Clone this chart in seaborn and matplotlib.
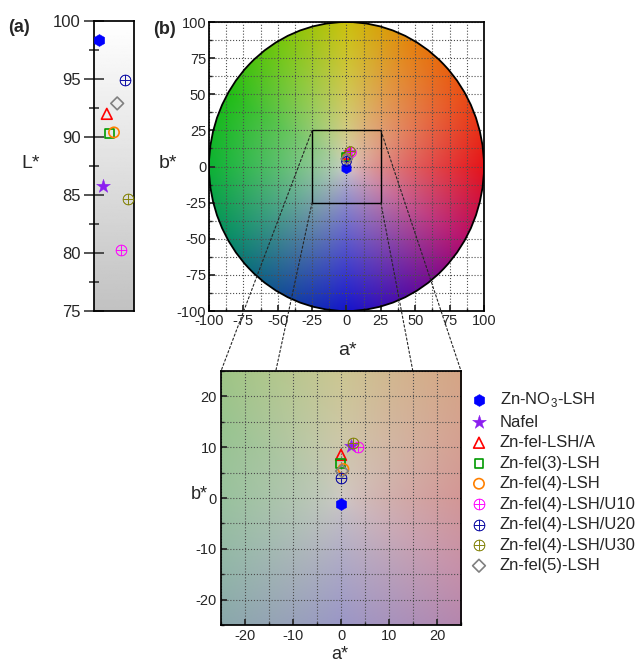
import numpy as np
import matplotlib
matplotlib.use('Agg')
import matplotlib.pyplot as plt
import seaborn as sns
from matplotlib.patches import Circle, Rectangle, ConnectionPatch
from matplotlib.ticker import MultipleLocator

sns.set_theme(style='ticks')
plt.rcParams['font.family'] = ['Liberation Sans', 'DejaVu Sans']
plt.rcParams['mathtext.fontset'] = 'custom'
plt.rcParams['mathtext.rm'] = 'Liberation Sans'
plt.rcParams['axes.edgecolor'] = 'black'
plt.rcParams['axes.unicode_minus'] = False

## sample data (CIE L*a*b*)
samples = [r'Zn-NO$_3$-LSH', 'Nafel', 'Zn-fel-LSH/A', 'Zn-fel(3)-LSH', 'Zn-fel(4)-LSH',
           'Zn-fel(4)-LSH/U10', 'Zn-fel(4)-LSH/U20', 'Zn-fel(4)-LSH/U30', 'Zn-fel(5)-LSH']
L_star = [98.4, 85.8, 92.0, 90.3, 90.4, 80.3, 94.9, 84.7, 92.9]
a_star = [0.0, 2.0, 0.0, -0.1, 0.5, 3.6, -0.1, 2.4, 0.2]
b_star = [-1.1, 10.3, 8.5, 6.8, 5.7, 10.1, 4.0, 10.8, 5.3]
L_xpos = [0.13, 0.23, 0.32, 0.38, 0.50, 0.67, 0.77, 0.85, 0.58]

# marker, colour, size, open?
oplus = r'$\oplus$'
styles = [('h', '#0000ff', 75, False),
          ('*', '#8b1ef0', 110, False),
          ('^', '#ff0000', 60, True),
          ('s', '#009a00', 40, True),
          ('o', '#ff8000', 55, True),
          (oplus, '#ff00ff', 65, False),
          (oplus, '#0000a0', 65, False),
          (oplus, '#808000', 65, False),
          ('D', '#808080', 42, True)]

# colour wheel anchors (hue angle -> rgb)
anchor_ang = [0, 30, 60, 90, 120, 150, 180, 210, 240, 270, 300, 330, 360]
anchor_rgb = np.array([
    [0.90, 0.08, 0.10], [0.92, 0.30, 0.08], [0.90, 0.50, 0.05], [0.80, 0.76, 0.05],
    [0.45, 0.78, 0.05], [0.12, 0.74, 0.08], [0.05, 0.70, 0.20], [0.03, 0.55, 0.40],
    [0.08, 0.32, 0.58], [0.08, 0.08, 0.80], [0.38, 0.05, 0.62], [0.72, 0.06, 0.42],
    [0.90, 0.08, 0.10]])
centre = np.array([0.84, 0.82, 0.80])


def wheel(a, b):
    ang = np.degrees(np.arctan2(b, a)) % 360
    r = np.clip(np.hypot(a, b) / 100, 0, 1)
    hue = np.stack([np.interp(ang, anchor_ang, anchor_rgb[:, k]) for k in range(3)], -1)
    w = r[..., None] ** 0.7
    return np.clip(centre * (1 - w) + hue * w, 0, 1)


def draw_points(ax, label=False):
    for i, (m, c, s, hollow) in enumerate(styles):
        kw = dict(marker=m, s=s, ax=ax, zorder=4, label=samples[i] if label else None)
        if hollow:
            kw.update(color=c, facecolor='none', edgecolor=c, linewidth=1.2)
        else:
            kw.update(color=c, edgecolor=c, linewidth=0.3)
        yield i, kw


fig = plt.figure(figsize=(6.44, 6.64), dpi=100)

## (a) L*
ax_a = fig.add_axes([0.146, 0.5316, 0.062, 0.4367])
ax_a.imshow(np.linspace(1, 0.76, 200)[:, None], extent=[0, 1, 75, 100], cmap='gray',
            vmin=0, vmax=1, aspect='auto', origin='upper', zorder=0)
for i, kw in draw_points(ax_a):
    sns.scatterplot(x=[L_xpos[i]], y=[L_star[i]], **kw)
ax_a.set_xlim(0, 1)
ax_a.set_ylim(75, 100)
ax_a.set_xticks([])
ax_a.yaxis.set_major_locator(MultipleLocator(5))
ax_a.yaxis.set_minor_locator(MultipleLocator(2.5))
ax_a.tick_params(axis='y', which='major', direction='inout', length=15, width=1.1, labelsize=12, pad=2)
ax_a.tick_params(axis='y', which='minor', direction='inout', length=7, width=1.1)
ax_a.set_xlabel('')
ax_a.set_ylabel('L*', rotation=0, fontsize=14, ha='center', va='center')
ax_a.yaxis.set_label_coords(-1.6, 0.51)

## (b) a*b* colour wheel
ax_b = fig.add_axes([0.3245, 0.5316, 0.427, 0.4352])
ga, gb = np.meshgrid(np.linspace(-100, 100, 400), np.linspace(-100, 100, 400))
im = ax_b.imshow(wheel(ga, gb), extent=[-100, 100, -100, 100], origin='lower',
                 aspect='auto', zorder=0, interpolation='bilinear')
clip = Circle((0, 0), 100, transform=ax_b.transData)
im.set_clip_path(clip)
ax_b.add_patch(Circle((0, 0), 100, fill=False, ec='black', lw=1.3, zorder=3))
ax_b.add_patch(Rectangle((-25, -25), 50, 50, fill=False, ec='black', lw=1.0, zorder=3))
for i, kw in draw_points(ax_b):
    kw['s'] = kw['s'] * 0.8
    sns.scatterplot(x=[a_star[i]], y=[b_star[i]], **kw)
ax_b.set_xlim(-100, 100)
ax_b.set_ylim(-100, 100)
for axis in (ax_b.xaxis, ax_b.yaxis):
    axis.set_major_locator(MultipleLocator(25))
    axis.set_minor_locator(MultipleLocator(12.5))
ax_b.grid(which='both', ls=':', color='0.3', lw=0.8)
ax_b.tick_params(which='major', direction='in', length=4, labelsize=10.5, pad=2)
ax_b.tick_params(which='minor', direction='in', length=2)
ax_b.set_xlabel('a*', fontsize=14, va='center')
ax_b.set_ylabel('b*', rotation=0, fontsize=14, ha='center', va='center')
ax_b.xaxis.set_label_coords(0.502, -0.135)
ax_b.yaxis.set_label_coords(-0.149, 0.512)

## (c) zoom of the central region
ax_c = fig.add_axes([0.3432, 0.0587, 0.3727, 0.3825])
ax_c.set_zorder(5)
za, zb = np.meshgrid(np.linspace(-25, 25, 200), np.linspace(-25, 25, 200))
zimg = 0.72 * wheel(za, zb) + 0.28 * np.array([0.74, 0.72, 0.72])
ax_c.imshow(zimg, extent=[-25, 25, -25, 25], origin='lower', aspect='auto',
            zorder=0, interpolation='bilinear')
for i, kw in draw_points(ax_c, label=True):
    sns.scatterplot(x=[a_star[i]], y=[b_star[i]], **kw)
ax_c.set_xlim(-25, 25)
ax_c.set_ylim(-25, 25)
for axis in (ax_c.xaxis, ax_c.yaxis):
    axis.set_major_locator(MultipleLocator(10))
    axis.set_minor_locator(MultipleLocator(5))
ax_c.grid(which='both', ls=':', color='0.3', lw=0.8)
ax_c.tick_params(which='major', direction='in', length=4, labelsize=10.5, pad=3)
ax_c.tick_params(which='minor', direction='in', length=2)
ax_c.set_xlabel('a*', fontsize=13, va='center')
ax_c.set_ylabel('b*', rotation=0, fontsize=13, ha='center', va='center')
ax_c.xaxis.set_label_coords(0.496, -0.118)
ax_c.yaxis.set_label_coords(-0.092, 0.512)

handles, labels = ax_c.get_legend_handles_labels()
ax_c.legend(handles, labels, loc='upper left', bbox_to_anchor=(1.04, 0.925), frameon=False,
            fontsize=12, handlelength=1.0, handletextpad=0.75, labelspacing=0.33,
            borderaxespad=0, borderpad=0)

## zoom connectors
for (xa, ya), (xc, yc) in [((-25, 25), (-25, 25)), ((25, 25), (25, 25)),
                           ((-25, -25), (-25, -25)), ((25, -25), (25, -25))]:
    con = ConnectionPatch(xyA=(xa, ya), coordsA=ax_b.transData, xyB=(xc, yc),
                          coordsB=ax_c.transData, ls=(0, (2, 2)), color='0.15', lw=0.8, zorder=2)
    fig.add_artist(con)

fig.text(8 / 644, 1 - 28 / 664, '(a)', fontsize=13, weight='bold', va='center')
fig.text(153 / 644, 1 - 30 / 664, '(b)', fontsize=13, weight='bold', va='center')

fig.savefig('out.png', dpi=100)
